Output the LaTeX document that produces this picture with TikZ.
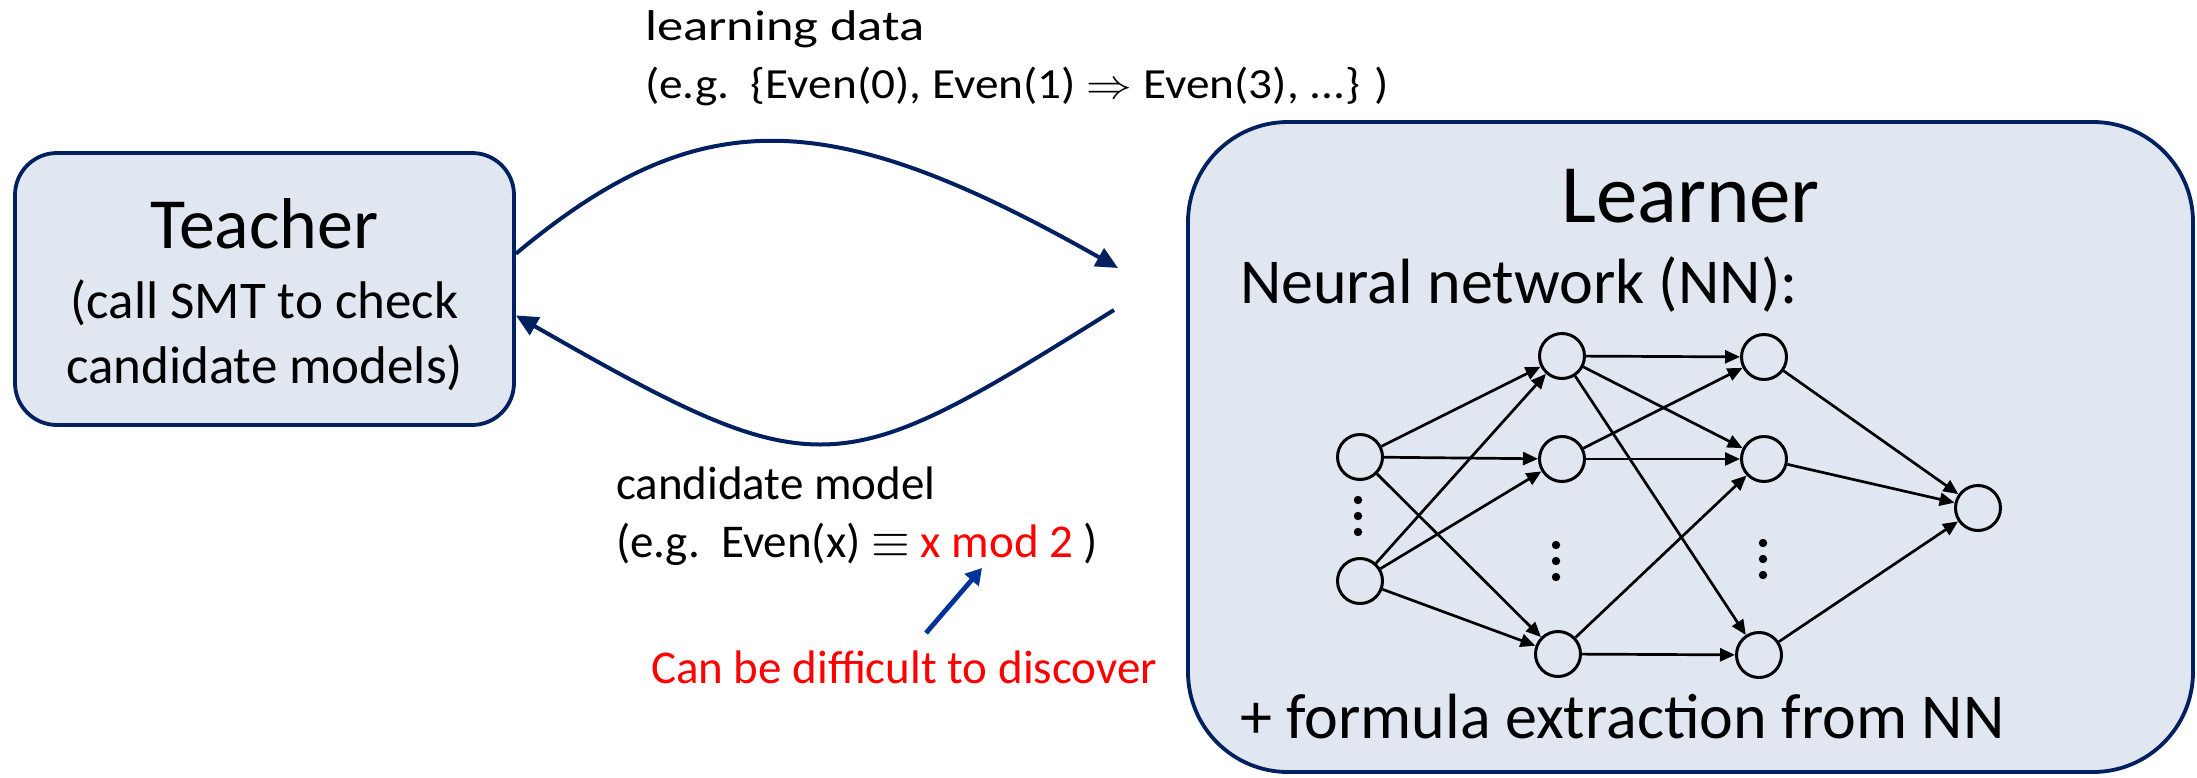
\documentclass[tikz,border=0pt]{standalone}
\usepackage{fontspec}
\setmainfont{Carlito}
\usetikzlibrary{arrows.meta}
\definecolor{navy}{RGB}{0,32,96}
\definecolor{boxfill}{RGB}{225,231,240}
\definecolor{hintblue}{RGB}{0,51,153}
\definecolor{alertred}{RGB}{255,0,0}
\tikzset{
  box/.style={draw=navy, fill=boxfill, line width=1.9pt, inner sep=0pt},
  flow/.style={draw=navy, line width=2pt, -{Triangle[length=11pt,width=10pt]}},
  hintarrow/.style={draw=hintblue, line width=2.4pt, -{Triangle[length=8pt,width=9pt]}},
  neuron/.style={circle, draw=black, line width=1.5pt, minimum size=22.5pt, inner sep=0pt},
  nnedge/.style={draw=black, line width=1.35pt, -{Triangle[length=7.5pt,width=6.5pt]}},
  vdot/.style={circle, fill=black, inner sep=0pt, minimum size=4.2pt},
  txt/.style={inner sep=0pt, outer sep=0pt},
}
\begin{document}
\begin{tikzpicture}[x=0.5pt, y=-0.5pt]
\useasboundingbox (0,0) rectangle (2197,777);

% the two parties
\node[box, rounded corners=21pt, minimum width=249.5pt, minimum height=136pt] (teacher) at (264.5,289) {};
\node[box, rounded corners=50pt, minimum width=502.5pt, minimum height=325pt] (learner) at (1690.5,447) {};

% teacher text (multi-line nodes are anchored on their last baseline)
\node[txt, anchor=base, font=\fontsize{36pt}{40pt}\selectfont] (teachertitle) at (264.5,248) {Teacher};
\node[txt, anchor=base, align=center, font=\fontsize{26.5pt}{32.5pt}\selectfont] (teachernote) at (264.5,383) {(call SMT to check\\candidate models)};

% learner text
\node[txt, anchor=base, font=\fontsize{41.5pt}{45pt}\selectfont] (learnertitle) at (1690.5,222) {Learner};
\node[txt, anchor=base west, font=\fontsize{32pt}{36pt}\selectfont] (nnlabel) at (1240,303) {Neural network (NN):};
\node[txt, anchor=base west, font=\fontsize{32pt}{36pt}\selectfont] (extract) at (1240,738) {+ formula extraction from NN};

% neural network
\node[neuron] (in1) at (1360,457) {};
\node[neuron] (in2) at (1360,581) {};
\node[neuron] (h1a) at (1562,356) {};
\node[neuron] (h1b) at (1562,459) {};
\node[neuron] (h1c) at (1558,654) {};
\node[neuron] (h2a) at (1764,357) {};
\node[neuron] (h2b) at (1764,459) {};
\node[neuron] (h2c) at (1759,655) {};
\node[neuron] (out) at (1978,508) {};

\foreach \x/\y in {1358/500, 1358/516, 1358/532, 1556/545, 1556/561, 1556/577, 1763/543, 1763/559, 1763/575}
  \node[vdot] at (\x,\y) {};

\foreach \a/\b in {in1/h1a, in1/h1b, in1/h1c, in2/h1a, in2/h1b, in2/h1c,
                   h1a/h2a, h1a/h2b, h1a/h2c, h1b/h2a, h1b/h2b, h1c/h2b, h1c/h2c,
                   h2a/out, h2b/out, h2c/out}
  \draw[nnedge] (\a) -- (\b);

% exchanged messages
\node[txt, anchor=base west, align=left, font=\fontsize{21.5pt}{29pt}\selectfont] (datalabel) at (645,98)
  {\scalebox{1.22}[1]{learning data}\\
   \scalebox{1.10}[1]{(e.g.\ \ \{Even(0), Even(1) $\Rightarrow$ Even(3), ...\} )}};
\node[txt, anchor=base west, align=left, font=\fontsize{23.5pt}{29pt}\selectfont] (modellabel) at (616,557)
  {candidate model\\(e.g.\ \ Even(x) $\equiv$ \textcolor{alertred}{x mod 2} )};
\node[txt, anchor=base west, text=alertred, font=\fontsize{23.5pt}{28pt}\selectfont] (hint) at (651,683)
  {Can be difficult to discover};

\coordinate (dataEnd) at (1118,268);
\coordinate (modelStart) at (1114,310);
\draw[flow] (teacher.8.4) .. controls (700,100) and (830,105) .. (dataEnd);
\draw[flow] (modelStart) .. controls (837,483) and (821,490) .. (teacher.-6.4);

\coordinate (hintTail) at (926,633);
\coordinate (hintTip) at (982,568);
\draw[hintarrow] (hintTail) -- (hintTip);
\end{tikzpicture}
\end{document}
